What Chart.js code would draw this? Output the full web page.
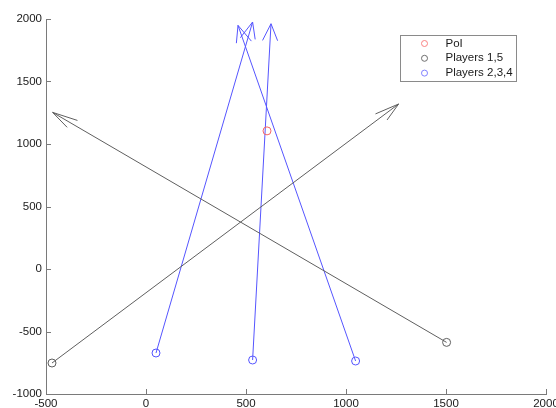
<!DOCTYPE html>
<html><head><meta charset="utf-8">
<script src="https://cdn.jsdelivr.net/npm/chart.js@4"></script>
<style>html,body{margin:0;padding:0;background:#fff;overflow:hidden}#wrap{width:556px;height:408px;position:relative}</style>
</head><body><div id="wrap"><canvas id="c" width="556" height="408"></canvas></div>
<script>
const xTicks = [-500, 0, 500, 1000, 1500, 2000];
const yTicks = [-1000, -500, 0, 500, 1000, 1500, 2000];
const poiX = [605];
const poiY = [1105];
const p15StartX = [-470, 1503];
const p15StartY = [-752, -587];
const p15EndX = [1263, -467];
const p15EndY = [1320, 1253];
const p234StartX = [50, 533, 1048];
const p234StartY = [-672, -728, -736];
const p234EndX = [533, 625, 460];
const p234EndY = [1976, 1962, 1949];
const legendLabels = ['PoI', 'Players 1,5', 'Players 2,3,4'];

const RED = 'rgb(245,100,100)';
const BLACK = 'rgb(95,95,95)';
const BLUE = 'rgb(85,85,255)';
const FONT = '"Liberation Sans", Arial, sans-serif';

const datasets = [];
datasets.push({
  label: legendLabels[0], data: poiX.map((v, i) => ({x: v, y: poiY[i]})),
  showLine: false, pointStyle: 'circle', pointRadius: 4, borderColor: RED, backgroundColor: 'transparent', borderWidth: 1
});
function addPlayers(sx, sy, ex, ey, color, label) {
  sx.forEach((v, i) => {
    datasets.push({
      label: label, arrow: true,
      data: [{x: v, y: sy[i]}, {x: ex[i], y: ey[i]}],
      showLine: true, borderColor: color, backgroundColor: 'transparent',
      borderWidth: 1, pointRadius: [4, 0], pointBorderWidth: 1, pointBorderColor: color
    });
  });
}
addPlayers(p15StartX, p15StartY, p15EndX, p15EndY, BLACK, legendLabels[1]);
addPlayers(p234StartX, p234StartY, p234EndX, p234EndY, BLUE, legendLabels[2]);

const arrowPlugin = {
  id: 'arrows',
  afterDatasetsDraw(chart) {
    const {ctx, scales: {x, y}} = chart;
    const a = 0.05, b = 0.28;
    ctx.save();
    chart.data.datasets.forEach(ds => {
      if (!ds.arrow) return;
      const p0 = ds.data[0], p1 = ds.data[1];
      const dx = p1.x - p0.x, dy = p1.y - p0.y;
      const b1 = {x: p1.x - a * (dx - b * dy), y: p1.y - a * (dy + b * dx)};
      const b2 = {x: p1.x - a * (dx + b * dy), y: p1.y - a * (dy - b * dx)};
      ctx.beginPath();
      ctx.moveTo(x.getPixelForValue(b1.x), y.getPixelForValue(b1.y));
      ctx.lineTo(x.getPixelForValue(p1.x), y.getPixelForValue(p1.y));
      ctx.lineTo(x.getPixelForValue(b2.x), y.getPixelForValue(b2.y));
      ctx.strokeStyle = ds.borderColor; ctx.lineWidth = 1; ctx.stroke();
    });
    ctx.restore();
  }
};

const tickPlugin = {
  id: 'inticks',
  afterDraw(chart) {
    const {ctx, chartArea: ca, scales: {x, y}} = chart;
    ctx.save();
    ctx.strokeStyle = '#7a7a7a'; ctx.lineWidth = 1;
    ctx.beginPath();
    x.ticks.forEach(t => { const px = Math.round(x.getPixelForValue(t.value)) + 0.5; ctx.moveTo(px, ca.bottom); ctx.lineTo(px, ca.bottom - 5); });
    y.ticks.forEach(t => { const py = Math.round(y.getPixelForValue(t.value)) + 0.5; ctx.moveTo(ca.left, py); ctx.lineTo(ca.left + 5, py); });
    ctx.stroke();
    ctx.restore();
  }
};

const legendPlugin = {
  id: 'boxlegend',
  afterDraw(chart) {
    const {ctx, chartArea: ca} = chart;
    const w = 116, h = 46;
    const left = Math.round(ca.right - 146) + 0.5, top = Math.round(ca.top + 16) + 0.5;
    const colors = ['rgb(250,130,130)', 'rgb(110,110,110)', 'rgb(130,130,255)'];
    ctx.save();
    ctx.fillStyle = '#fff'; ctx.fillRect(left, top, w, h);
    ctx.strokeStyle = '#8a8a8a'; ctx.lineWidth = 1; ctx.strokeRect(left, top, w, h);
    ctx.font = '11.5px ' + FONT; ctx.textBaseline = 'middle'; ctx.textAlign = 'left';
    legendLabels.forEach((lab, i) => {
      const cy = top + 8 + i * 14.8;
      ctx.beginPath(); ctx.arc(left + 24, cy, 3, 0, Math.PI * 2);
      ctx.strokeStyle = colors[i]; ctx.stroke();
      ctx.fillStyle = '#1a1a1a'; ctx.fillText(lab, left + 45, cy);
    });
    ctx.restore();
  }
};

const fmt = v => String(v);

new Chart(document.getElementById('c'), {
  type: 'scatter',
  data: {datasets},
  options: {
    responsive: false, animation: false, devicePixelRatio: 1,
    layout: {padding: {top: 19, right: 10, left: 0, bottom: 0}},
    plugins: {legend: {display: false}, tooltip: {enabled: false}},
    scales: {
      x: {
        type: 'linear', min: -500, max: 2000,
        afterBuildTicks: s => { s.ticks = xTicks.map(v => ({value: v})); },
        afterFit: s => { s.height = 14; s.paddingLeft = 0; s.paddingRight = 0; },
        grid: {display: false, drawTicks: false},
        border: {display: true, color: '#7a7a7a', width: 1},
        ticks: {padding: 3, color: '#1a1a1a', font: {family: FONT, size: 11.5}, maxRotation: 0, autoSkip: false, callback: fmt}
      },
      y: {
        type: 'linear', min: -1000, max: 2000,
        afterBuildTicks: s => { s.ticks = yTicks.map(v => ({value: v})); },
        afterFit: s => { s.width = 46; s.paddingTop = 0; s.paddingBottom = 0; },
        grid: {display: false, drawTicks: false},
        border: {display: true, color: '#7a7a7a', width: 1},
        ticks: {padding: 4, color: '#1a1a1a', font: {family: FONT, size: 11.5}, autoSkip: false, callback: fmt}
      }
    }
  },
  plugins: [arrowPlugin, tickPlugin, legendPlugin]
});
</script>
</body></html>
